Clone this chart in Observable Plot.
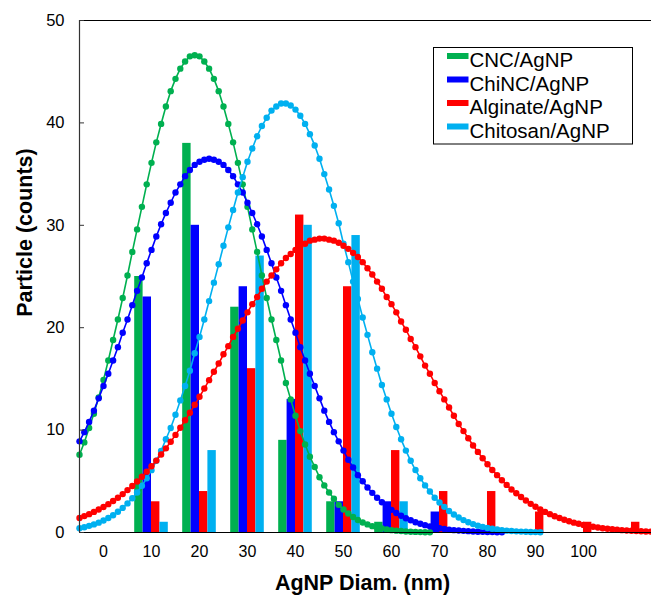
<!DOCTYPE html>
<html>
<head>
<meta charset="utf-8">
<script src="https://cdn.jsdelivr.net/npm/d3@7"></script>
<script src="https://cdn.jsdelivr.net/npm/@observablehq/plot@0.6"></script>
<style>
  html, body { margin: 0; padding: 0; background: #fff; overflow: hidden; }
  #chart { width: 651px; height: 595px; }
</style>
</head>
<body>
<div id="chart"></div>
<script>
// ---- data ----
const series = ["CNC/AgNP", "ChiNC/AgNP", "Alginate/AgNP", "Chitosan/AgNP"];
const colors = ["#00B050", "#0000FF", "#FF0000", "#00B0F0"];
const categories = [0, 10, 20, 30, 40, 50, 60, 70, 80, 90, 100, 110];
const tickLabels = [0, 10, 20, 30, 40, 50, 60, 70, 80, 90, 100];
const yTicks = [0, 10, 20, 30, 40, 50];

const cncCounts      = [0, 25, 38, 22,  9,  3, 1, 0, 0, 0, 0, 0];
const chincCounts    = [0, 23, 30, 24, 13,  3, 3, 2, 0, 0, 0, 0];
const alginateCounts = [0,  3,  4, 16, 31, 24, 8, 4, 4, 2, 1, 1];
const chitosanCounts = [0,  1,  8, 27, 30, 29, 3, 0, 0, 0, 0, 0];

// fitted distribution curves at these diameters
const fitDiam = [
  -5, -4, -3, -2, -1, 0, 1, 2, 3, 4,
  5, 6, 7, 8, 9, 10, 11, 12, 13, 14,
  15, 16, 17, 18, 19, 20, 21, 22, 23, 24,
  25, 26, 27, 28, 29, 30, 31, 32, 33, 34,
  35, 36, 37, 38, 39, 40, 41, 42, 43, 44,
  45, 46, 47, 48, 49, 50, 51, 52, 53, 54,
  55, 56, 57, 58, 59, 60, 61, 62, 63, 64,
  65, 66, 67, 68, 69, 70, 71, 72, 73, 74,
  75, 76, 77, 78, 79, 80, 81, 82, 83, 84,
  85, 86, 87, 88, 89, 90, 91, 92, 93, 94,
  95, 96, 97, 98, 99, 100, 101, 102, 103, 104,
  105, 106, 107, 108, 109, 110, 111, 112, 113, 114];
const cncFit = [
  7.6, 8.8, 10.2, 11.6, 13.2, 14.9, 16.8, 18.8, 20.8, 22.9,
  25.1, 27.4, 29.6, 31.8, 34.0, 36.1, 38.1, 39.9, 41.6, 43.1,
  44.3, 45.3, 46.0, 46.5, 46.6, 46.5, 46.0, 45.3, 44.3, 43.1,
  41.6, 39.9, 38.1, 36.1, 34.0, 31.8, 29.6, 27.4, 25.1, 22.9,
  20.8, 18.8, 16.8, 14.6, 13.0, 11.4, 9.9, 8.6, 7.4, 6.4,
  5.4, 4.6, 3.9, 3.3, 2.7, 2.25, 1.85, 1.51, 1.22, 0.98,
  0.79, 0.62, 0.49, 0.39, 0.30, 0.23, 0.18, 0.14, 0.10, 0.08,
  0.06, 0.04, 0.03, 0.02];
const chincFit = [
  8.9, 9.8, 10.8, 11.9, 13.1, 14.3, 15.5, 16.8, 18.1, 19.5,
  20.8, 22.2, 23.6, 24.9, 26.3, 27.6, 28.9, 30.1, 31.2, 32.2,
  33.2, 34.0, 34.8, 35.4, 35.9, 36.2, 36.4, 36.5, 36.4, 36.2,
  35.9, 35.4, 34.8, 34.0, 33.2, 32.2, 31.2, 30.1, 28.9, 27.6,
  26.3, 24.9, 23.6, 22.2, 20.8, 19.5, 18.1, 16.8, 15.5, 14.3,
  13.1, 11.9, 10.8, 9.8, 8.9, 8.0, 7.1, 6.35, 5.6, 5.0,
  4.4, 3.87, 3.4, 2.95, 2.56, 2.21, 1.9, 1.63, 1.39, 1.19,
  1.0, 0.85, 0.72, 0.60, 0.50, 0.42, 0.34, 0.28, 0.23, 0.19,
  0.16, 0.13, 0.10, 0.08, 0.07, 0.05, 0.04, 0.03, 0.03];
const alginateFit = [
  1.42, 1.60, 1.79, 2.01, 2.24, 2.49, 2.77, 3.07, 3.40, 3.75,
  4.14, 4.54, 4.98, 5.45, 5.94, 6.47, 7.02, 7.61, 8.22, 8.86,
  9.53, 10.23, 10.96, 11.70, 12.47, 13.25, 14.06, 14.88, 15.7, 16.5,
  17.4, 18.2, 19.1, 19.9, 20.7, 21.5, 22.3, 23.0, 23.8, 24.5,
  25.1, 25.7, 26.3, 26.8, 27.2, 27.6, 28.0, 28.2, 28.5, 28.6,
  28.7, 28.7, 28.6, 28.5, 28.3, 28.0, 27.7, 27.3, 26.9, 26.4,
  25.8, 25.2, 24.5, 23.8, 23.0, 22.3, 21.5, 20.6, 19.8, 18.9,
  18.1, 17.2, 16.3, 15.5, 14.6, 13.8, 13.0, 12.2, 11.4, 10.6,
  9.9, 9.2, 8.5, 7.87, 7.25, 6.66, 6.1, 5.60, 5.1, 4.65,
  4.2, 3.83, 3.46, 3.12, 2.80, 2.51, 2.25, 2.01, 1.79, 1.59,
  1.41, 1.24, 1.10, 0.96, 0.85, 0.74, 0.65, 0.56, 0.49, 0.42,
  0.37, 0.32, 0.27, 0.23, 0.20, 0.17, 0.14, 0.12, 0.10, 0.09];
const chitosanFit = [
  0.42, 0.52, 0.65, 0.79, 0.96, 1.17, 1.41, 1.69, 2.02, 2.40,
  2.84, 3.34, 3.9, 4.56, 5.3, 6.09, 7.0, 7.97, 9.1, 10.2,
  11.5, 12.9, 14.3, 15.8, 17.5, 19.1, 20.8, 22.6, 24.4, 26.2,
  28.0, 29.8, 31.5, 33.2, 34.7, 36.2, 37.5, 38.7, 39.7, 40.5,
  41.2, 41.6, 41.9, 41.9, 41.7, 41.3, 40.7, 39.9, 38.9, 37.8,
  36.5, 35.0, 33.5, 31.9, 30.2, 28.2, 26.4, 24.5, 22.8, 21.0,
  19.3, 17.6, 16.0, 14.4, 13.0, 11.6, 10.3, 9.1, 8.0, 7.0,
  6.1, 5.3, 4.6, 4.0, 3.4, 2.93, 2.5, 2.1, 1.76, 1.46,
  1.21, 1.0, 0.82, 0.67, 0.55, 0.44, 0.36, 0.29, 0.23, 0.18,
  0.14, 0.11, 0.09, 0.07, 0.05, 0.04, 0.03];

const xTitle = "AgNP Diam. (nm)";
const yTitle = "Particle (counts)";

// ---- tables built from the arrays ----
const countArrays = [cncCounts, chincCounts, alginateCounts, chitosanCounts];
const fitArrays = [cncFit, chincFit, alginateFit, chitosanFit];
const barData = [];
series.forEach((s, i) => categories.forEach((c, j) =>
  barData.push({series: s, idx: i, cat: c, count: countArrays[i][j]})));
const fitData = [];
series.forEach((s, i) => fitArrays[i].forEach((v, j) =>
  fitData.push({series: s, diam: fitDiam[j], value: v})));

const xMin = -5, xMax = 114.17;
const barW = 1.75;
const drawOrder = [0, 1, 3, 2];
const font = "'Liberation Sans', Arial, Helvetica, sans-serif";

const curveMarks = [];
drawOrder.forEach(i => {
  const d = fitData.filter(r => r.series === series[i]);
  curveMarks.push(Plot.line(d, {x: "diam", y: "value", stroke: colors[i], strokeWidth: 1.6}));
  curveMarks.push(Plot.dot(d, {x: "diam", y: "value", fill: colors[i], r: 3.2, stroke: "none"}));
});

const chart = Plot.plot({
  width: 651,
  height: 595,
  marginLeft: 79,
  marginRight: 0,
  marginTop: 20,
  marginBottom: 63,
  style: {fontFamily: font, background: "#fff", color: "#000"},
  x: {domain: [xMin, xMax]},
  y: {domain: [0, 50]},
  color: {domain: series, range: colors},
  marks: [
    Plot.rectY(barData, {
      x1: d => d.cat + (d.idx - 2) * barW,
      x2: d => d.cat + (d.idx - 1) * barW,
      y1: 0,
      y2: "count",
      fill: "series"
    }),
    ...curveMarks,
    Plot.ruleY([0], {stroke: "#000", strokeWidth: 1.2}),
    Plot.ruleY([50], {stroke: "#000", strokeWidth: 1}),
    Plot.ruleX([xMin], {stroke: "#333", strokeWidth: 1.2}),
    Plot.axisX(tickLabels, {tickSize: 0, tickPadding: 13, fontSize: 16, label: null}),
    Plot.axisY(yTicks, {tickSize: -5, tickPadding: 20, fontSize: 16.5, label: null, stroke: "#333"}),
    Plot.text([xTitle], {frameAnchor: "bottom", dx: -3, dy: 51, lineAnchor: "middle", textAnchor: "middle", fontSize: 21.5, fontWeight: "bold"}),
    Plot.text([yTitle], {frameAnchor: "left", dx: -54, dy: -44, rotate: -90, lineAnchor: "middle", textAnchor: "middle", fontSize: 21.5, fontWeight: "bold"})
  ]
});

// legend
const svg = d3.select(chart);
const lg = svg.append("g").attr("font-family", font).attr("text-anchor", "start");
lg.append("rect").attr("x", 433.5).attr("y", 47.5).attr("width", 199).attr("height", 96.5)
  .attr("fill", "#fff").attr("stroke", "#000").attr("stroke-width", 1);
series.forEach((s, i) => {
  const base = 67 + i * 23.5;
  lg.append("rect").attr("x", 447).attr("y", base - 14).attr("width", 21.5).attr("height", 6).attr("fill", colors[i]);
  lg.append("text").attr("x", 469.5).attr("y", base).attr("font-size", 20.5).attr("fill", "#000")
    .attr("text-anchor", "start").text(s);
});

document.getElementById("chart").appendChild(chart);
</script>
</body>
</html>
